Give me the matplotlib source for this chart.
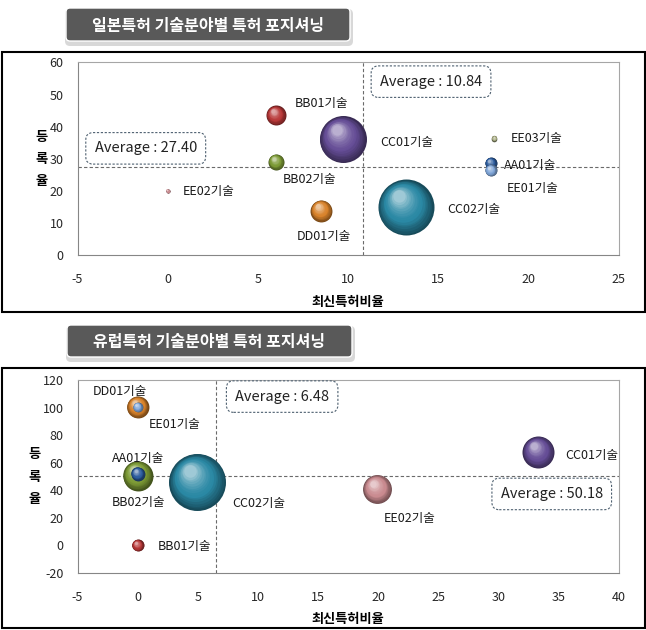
import matplotlib
matplotlib.use('Agg')
import matplotlib.pyplot as plt
import numpy as np
from matplotlib.patches import FancyBboxPatch, Rectangle
from matplotlib.transforms import offset_copy
from matplotlib.colors import to_rgb

plt.rcParams['font.family'] = ['Noto Sans CJK KR', 'DejaVu Sans']
plt.rcParams['axes.unicode_minus'] = False

# 일본특허
jp_techs = ['AA01', 'BB01', 'BB02', 'CC01', 'CC02', 'DD01', 'EE01', 'EE02', 'EE03']
jp_ratio = [17.9, 6.0, 6.0, 9.7, 13.2, 8.5, 17.9, 0.0, 18.1]
jp_rate = [28.6, 43.5, 29.0, 36.1, 14.9, 13.8, 26.4, 20.0, 36.3]
jp_count = [9, 25, 16, 138, 196, 30, 9, 1, 2]
jp_avg_x = 10.84
jp_avg_y = 27.40

# 유럽특허
eu_techs = ['AA01', 'BB01', 'BB02', 'CC01', 'CC02', 'DD01', 'EE01', 'EE02']
eu_ratio = [0.0, 0.0, 0.0, 33.3, 4.95, 0.0, 0.0, 19.9]
eu_rate = [52.0, 0.0, 50.7, 67.7, 45.9, 100.5, 100.5, 40.8]
eu_count = [12, 9, 56, 64, 203, 30, 6, 52]
eu_avg_x = 6.48
eu_avg_y = 50.18

colors = {'AA01': '#2c5c9e', 'BB01': '#b83838', 'BB02': '#7c9a35', 'CC01': '#654d96',
          'CC02': '#2a88a4', 'DD01': '#d8822a', 'EE01': '#7fa5d8', 'EE02': '#c98a8f',
          'EE03': '#a9ad82'}

# label offsets in pixels (dx, dy)
jp_lbl = {'AA01': (13, -2), 'BB01': (19, 12), 'BB02': (7, -18), 'CC01': (37, -3),
          'CC02': (41, -2), 'DD01': (-24, -26), 'EE01': (16, -18), 'EE02': (15, -1),
          'EE03': (16, 0)}
eu_lbl = {'AA01': (-26, 15), 'BB01': (20, -1), 'BB02': (-26, -27), 'CC01': (27, -3),
          'CC02': (35, -21), 'DD01': (-45, 16), 'EE01': (11, -17), 'EE02': (7, -29)}

W, H = 646, 630
fig = plt.figure(figsize=(W / 100, H / 100), dpi=100)

# background layer in pixel coords
bg = fig.add_axes([0, 0, 1, 1])
bg.set_xlim(0, W)
bg.set_ylim(H, 0)
bg.axis('off')


def title_box(x0, y0, w, h, text):
    sh = FancyBboxPatch((x0 - 1, y0 + 1), w + 4, h + 4,
                        boxstyle='round,pad=0,rounding_size=5', fc='#cfcfcf', ec='none', alpha=0.8)
    bg.add_patch(sh)
    box = FancyBboxPatch((x0, y0), w, h, boxstyle='round,pad=0,rounding_size=4',
                         fc='#595959', ec='white', lw=1)
    bg.add_patch(box)
    bg.text(x0 + w / 2, y0 + h / 2 + 1, text, color='white', fontsize=11.5,
            fontweight='bold', ha='center', va='center')


title_box(66, 8, 284, 33, '일본특허 기술분야별 특허 포지셔닝')
title_box(67, 325, 285, 32, '유럽특허 기술분야별 특허 포지셔닝')
bg.add_patch(Rectangle((1.5, 52), 643, 260, fill=False, ec='black', lw=1.5))
bg.add_patch(Rectangle((1.5, 368), 643, 260, fill=False, ec='black', lw=1.5))


def sphere(ax, x, y, count, color, z):
    d = 2.88 * np.sqrt(count)  # diameter in points
    base = np.array(to_rgb(color))
    n = 16
    for i in range(n):
        t = i / (n - 1)
        dd = d * (1 - 0.78 * t)
        shift = (d - dd) / 2 * 0.6
        tr = offset_copy(ax.transData, fig=ax.figure, x=-shift * 0.55, y=shift * 0.85, units='points')
        c = base * (0.55 + 0.45 * min(t / 0.4, 1))
        w = max(0.0, (t - 0.4) / 0.6) ** 1.6 * 0.55
        c = c * (1 - w) + w
        ax.plot([x], [y], 'o', ms=dd, mew=0, color=np.clip(c, 0, 1), transform=tr,
                zorder=z + i * 0.001, clip_on=False)


def panel(rect, techs, xs, ys, counts, lbls, avg_x, avg_y, xlim, ylim, xstep, ystep,
          xbox, ybox):
    ax = fig.add_axes(rect)
    ax.set_xlim(*xlim)
    ax.set_ylim(*ylim)
    ax.set_xticks(np.arange(xlim[0], xlim[1] + 1, xstep))
    ax.set_yticks(np.arange(ylim[0], ylim[1] + 1, ystep))
    ax.tick_params(length=0, labelsize=9, colors='#262626')
    ax.tick_params(axis='x', pad=13)
    ax.tick_params(axis='y', pad=10)
    for s in ['left', 'bottom']:
        ax.spines[s].set_color('#868686')
    for s in ['top', 'right']:
        ax.spines[s].set_color('#a6a6a6')
    ax.axvline(avg_x, color='#6a6a6a', lw=0.8, ls=(0, (3, 2)), zorder=1)
    ax.axhline(avg_y, color='#6a6a6a', lw=0.8, ls=(0, (3, 2)), zorder=1)

    order = sorted(range(len(techs)), key=lambda k: -counts[k])
    for rank, k in enumerate(order):
        sphere(ax, xs[k], ys[k], counts[k], colors[techs[k]], 2 + rank * 0.1)
    for k, t in enumerate(techs):
        ax.annotate(t + '기술', (xs[k], ys[k]), xytext=lbls[t], textcoords='offset pixels',
                    ha='left', va='center', fontsize=9, color='#1a1a1a', zorder=10)

    bb = dict(boxstyle='round,pad=0.6,rounding_size=0.5', fc='white', ec='#4e6070',
              lw=0.8, ls=(0, (2, 1.5)))
    ax.text(xbox[0], xbox[1], f'Average : {avg_x:.2f}', transform=ax.transAxes,
            ha='center', va='center', fontsize=10.5, color='#222222', bbox=bb, zorder=12)
    ax.text(ybox[0], ybox[1], f'Average : {avg_y:.2f}', transform=ax.transAxes,
            ha='center', va='center', fontsize=10.5, color='#222222', bbox=bb, zorder=12)

    ax.set_xlabel('최신특허비율', fontsize=9.5, fontweight='bold', labelpad=6)
    ax.set_ylabel('등\n록\n율', fontsize=9.5, fontweight='bold', rotation=0,
                  va='center', linespacing=1.75, labelpad=6)
    return ax


panel([0.12, 0.595, 0.838, 0.306], jp_techs, jp_ratio, jp_rate, jp_count, jp_lbl,
      jp_avg_x, jp_avg_y, (-5, 25), (0, 60), 5, 10, (0.653, 0.90), (0.126, 0.554))
panel([0.12, 0.0905, 0.838, 0.306], eu_techs, eu_ratio, eu_rate, eu_count, eu_lbl,
      eu_avg_x, eu_avg_y, (-5, 40), (-20, 120), 5, 20, (0.378, 0.915), (0.876, 0.41))

fig.savefig('out.png', dpi=100)
